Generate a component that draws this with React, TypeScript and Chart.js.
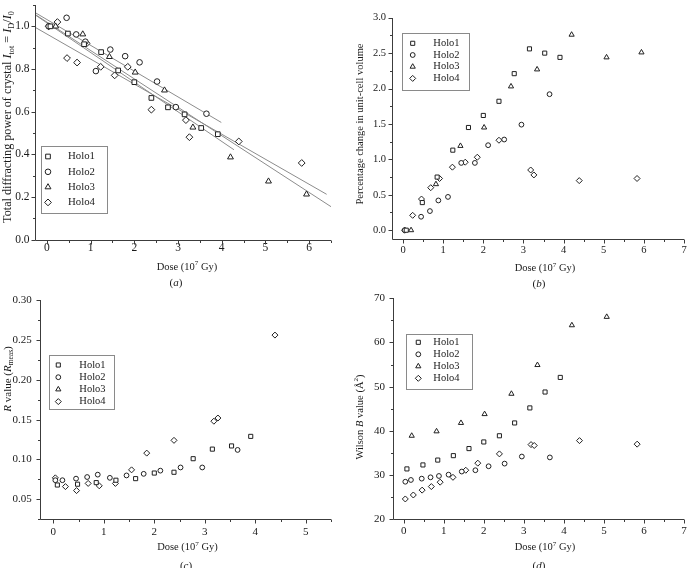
import React, { useEffect, useRef } from 'react';
import { Chart, registerables } from 'chart.js';
import { drawPoint } from 'chart.js/helpers';

Chart.register(...registerables);

// ---------------- data ----------------
const seriesNames = ['Holo1', 'Holo2', 'Holo3', 'Holo4'];
const seriesStyles = ['rect', 'circle', 'triangle', 'rectRot'];

const holo1Dose = [0.08, 0.48, 0.85, 1.24, 1.63, 2.0, 2.39, 2.77, 3.15, 3.53, 3.91];
const holo2Dose = [0.04, 0.18, 0.45, 0.67, 0.88, 1.12, 1.45, 1.79, 2.12, 2.52, 2.95, 3.65];
const holo3Dose = [0.2, 0.82, 1.43, 2.02, 2.69, 3.34, 4.2, 5.07, 5.94];
const holo4Dose = [0.04, 0.24, 0.46, 0.69, 0.91, 1.23, 1.55, 1.85, 2.39, 3.18, 3.26, 4.39, 5.83];

// (a) total diffracting power I_tot = I_D / I_0
const holo1Power = [1.0, 0.966, 0.916, 0.879, 0.793, 0.738, 0.664, 0.62, 0.587, 0.523, 0.494];
const holo2Power = [1.0, null, 1.04, 0.962, 0.928, 0.79, 0.891, 0.86, 0.831, 0.741, 0.621, 0.59];
const holo3Power = [1.0, 0.963, 0.857, 0.784, 0.7, 0.526, 0.386, 0.273, 0.212];
const holo4Power = [1.0, 1.02, 0.851, 0.83, 0.92, 0.81, 0.77, 0.81, 0.609, 0.56, 0.48, 0.46, 0.359];

// (a) linear fits (start / end of each line)
const fitStartDose = [-0.25, -0.25, -0.25, -0.25];
const fitEndDose = [4.28, 3.99, 6.5, 6.4];
const fitStartPower = [1.051, 1.062, 1.053, 0.993];
const fitEndPower = [0.421, 0.549, 0.154, 0.212];

// (b) percentage change in unit-cell volume
const holo1Volume = [0.0, 0.39, 0.75, 1.13, 1.45, 1.62, 1.82, 2.21, 2.56, 2.5, 2.44];
const holo2Volume = [0.0, null, 0.19, 0.27, 0.42, 0.47, 0.95, 0.95, 1.2, 1.28, 1.49, 1.92];
const holo3Volume = [0.0, 0.65, 1.19, 1.45, 2.03, 2.27, 2.76, 2.44, 2.51];
const holo4Volume = [0.0, 0.21, 0.44, 0.6, 0.73, 0.89, 0.96, 1.03, 1.27, 0.85, 0.78, 0.7, 0.73];

// (c) R value (R_meas)
const holo1R = [0.068, 0.069, 0.071, 0.074, 0.076, 0.083, 0.084, 0.101, 0.113, 0.117, 0.129];
const holo2R = [0.074, 0.074, 0.076, 0.078, 0.081, 0.077, 0.08, 0.082, 0.086, 0.09, 0.09, 0.112];
const holo3R = [null, null, null, null, null, null, null, null, null];
const holo4R = [0.077, 0.066, 0.061, 0.07, 0.067, 0.07, 0.087, 0.108, 0.124, 0.148, 0.152, 0.256, null];

// (d) Wilson B value (Å^2)
const holo1B = [31.4, 32.3, 33.4, 34.4, 36.0, 37.5, 38.9, 41.8, 45.2, 48.8, 52.1];
const holo2B = [28.5, 28.9, 29.2, 29.5, 29.8, 30.1, 30.8, 31.1, 32.0, 32.6, 34.2, 34.0];
const holo3B = [38.9, 39.9, 41.8, 43.8, 48.4, 54.9, 63.9, 65.8, null];
const holo4B = [24.6, 25.5, 26.6, 27.4, 28.4, 29.5, 31.1, 32.7, 34.8, 36.9, 36.7, 37.8, 37.0];

// tick labels
const doseTicks7 = [0, 1, 2, 3, 4, 5, 6, 7];
const doseTicks6 = [0, 1, 2, 3, 4, 5, 6];
const doseTicks5 = [0, 1, 2, 3, 4, 5];
const powerTicks = [0, 0.2, 0.4, 0.6, 0.8, 1.0];
const volumeTicks = [0, 0.5, 1.0, 1.5, 2.0, 2.5, 3.0];
const rTicks = [0.05, 0.1, 0.15, 0.2, 0.25, 0.3];
const bTicks = [20, 30, 40, 50, 60, 70];

// ---------------- helpers ----------------
const FONT = '"Liberation Serif", "Times New Roman", serif';
const INK = '#1a1a1a';

type Seg = { t: string; i?: boolean; sub?: boolean; sup?: boolean };

function segFont(size: number, s: Seg) {
  const sz = s.sub || s.sup ? size * 0.68 : size;
  return `${s.i ? 'italic ' : ''}${sz}px ${FONT}`;
}

function drawRich(ctx: CanvasRenderingContext2D, segs: Seg[], size: number, cx: number, cy: number, rotate: boolean) {
  ctx.save();
  ctx.translate(cx, cy);
  if (rotate) ctx.rotate(-Math.PI / 2);
  const widths = segs.map((s) => {
    ctx.font = segFont(size, s);
    return ctx.measureText(s.t).width;
  });
  const total = widths.reduce((a, b) => a + b, 0);
  let x = -total / 2;
  ctx.textBaseline = 'middle';
  ctx.textAlign = 'left';
  ctx.fillStyle = INK;
  segs.forEach((s, k) => {
    ctx.font = segFont(size, s);
    const dy = s.sub ? size * 0.28 : s.sup ? -size * 0.33 : 0;
    ctx.fillText(s.t, x, dy);
    x += widths[k];
  });
  ctx.restore();
}

function pointsOf(doses: number[], values: (number | null)[]) {
  const out: { x: number; y: number }[] = [];
  doses.forEach((d, i) => {
    const v = values[i];
    if (v !== null && v !== undefined) out.push({ x: d, y: v });
  });
  return out;
}

const framePlugin = {
  id: 'frame',
  beforeDatasetsDraw(chart: any) {
    const o = chart.options.plugins.frame;
    const { ctx, chartArea: a, scales } = chart;
    const xs = scales.x;
    const ys = scales.y;
    ctx.save();
    ctx.strokeStyle = '#3c3c3c';
    ctx.lineWidth = 1;
    const L = Math.round(a.left) - 0.5;
    const B = Math.round(a.bottom) + 0.5;
    ctx.beginPath();
    ctx.moveTo(L, Math.round(a.top));
    ctx.lineTo(L, B);
    ctx.lineTo(Math.round(a.right), B);
    const near = (arr: number[], v: number) => arr.some((m) => Math.abs(m - v) < 1e-6);
    const xStart = Math.ceil((xs.min - 1e-9) / o.xMinor) * o.xMinor;
    for (let v = xStart; v <= xs.max + 1e-9; v += o.xMinor) {
      const major = near(o.xMajor, v);
      const px = Math.round(xs.getPixelForValue(v)) + 0.5;
      if (px < a.left) continue;
      ctx.moveTo(px, B);
      ctx.lineTo(px, B + (major ? 4 : 2.5));
    }
    const yStart = Math.ceil((ys.min - 1e-9) / o.yMinor) * o.yMinor;
    for (let v = yStart; v <= ys.max + 1e-9; v += o.yMinor) {
      const major = near(o.yMajor, v);
      const py = Math.round(ys.getPixelForValue(v)) + 0.5;
      if (py > a.bottom + 1) continue;
      ctx.moveTo(L, py);
      ctx.lineTo(L - (major ? 4 : 2.5), py);
    }
    ctx.stroke();
    ctx.restore();
  },
  afterDraw(chart: any) {
    const o = chart.options.plugins.frame;
    const ctx = chart.ctx;
    drawRich(ctx, o.yTitle, o.yTitleSize, o.yTitleX, o.yTitleY, true);
    drawRich(ctx, o.xTitle, o.xTitleSize, o.xTitleX, o.xTitleY, false);
    drawRich(ctx, o.caption, o.captionSize, o.captionX, o.captionY, false);
    const lg = o.legend;
    ctx.save();
    ctx.fillStyle = '#ffffff';
    ctx.strokeStyle = '#8a8a8a';
    ctx.lineWidth = 1;
    ctx.fillRect(lg.x, lg.y, lg.w, lg.h);
    ctx.strokeRect(Math.round(lg.x) + 0.5, Math.round(lg.y) + 0.5, Math.round(lg.w), Math.round(lg.h));
    const sets = chart.data.datasets.filter((d: any) => d.label);
    sets.forEach((d: any, k: number) => {
      const yy = lg.row0 + k * lg.rowH;
      ctx.strokeStyle = d.borderColor;
      ctx.fillStyle = '#ffffff';
      ctx.lineWidth = 1;
      drawPoint(ctx, { pointStyle: d.pointStyle, radius: d.pointRadius, rotation: 0, borderWidth: 1 } as any, lg.markerX, yy);
      ctx.fillStyle = INK;
      ctx.font = `${lg.size}px ${FONT}`;
      ctx.textAlign = 'left';
      ctx.textBaseline = 'middle';
      ctx.fillText(d.label, lg.textX, yy);
    });
    ctx.restore();
  },
};

const doseTitle: Seg[] = [{ t: 'Dose (10' }, { t: '7', sup: true }, { t: ' Gy)' }];

type PanelCfg = {
  left: number; top: number; w: number; h: number;
  area: { L: number; R: number; T: number; B: number };
  xMin: number; xMax: number; yMin: number; yMax: number;
  xMajor: number[]; xMinor: number; yMajor: number[]; yMinor: number;
  yDigits: number;
  tickSize: number; xPad: number; yPad: number;
  series: (number | null)[][];
  radii: number[];
  fits?: boolean;
  frame: any;
};

function buildConfig(p: PanelCfg): any {
  const doseSets = [holo1Dose, holo2Dose, holo3Dose, holo4Dose];
  const datasets: any[] = seriesNames.map((name, k) => ({
    type: 'scatter',
    label: name,
    data: pointsOf(doseSets[k], p.series[k]),
    pointStyle: seriesStyles[k],
    pointRadius: p.radii[k],
    pointBorderWidth: 1,
    borderWidth: 1,
    borderColor: '#202020',
    backgroundColor: '#ffffff',
    pointBackgroundColor: '#ffffff',
    showLine: false,
    clip: false,
    order: 1,
  }));
  if (p.fits) {
    for (let k = 0; k < 4; k++) {
      datasets.push({
        type: 'line',
        data: [
          { x: fitStartDose[k], y: fitStartPower[k] },
          { x: fitEndDose[k], y: fitEndPower[k] },
        ],
        borderColor: '#8c8c8c',
        borderWidth: 1,
        pointRadius: 0,
        fill: false,
        clip: false,
        order: 10,
      });
    }
  }
  const tickFont = { family: FONT, size: p.tickSize };
  return {
    type: 'scatter',
    data: { datasets },
    options: {
      responsive: false,
      animation: false,
      events: [],
      layout: { padding: { left: 0, top: p.area.T, right: p.w - p.area.R, bottom: 0 } },
      scales: {
        x: {
          type: 'linear',
          min: p.xMin,
          max: p.xMax,
          grid: { display: false, drawTicks: false },
          border: { display: false },
          afterBuildTicks: (s: any) => {
            s.ticks = p.xMajor.map((v) => ({ value: v }));
          },
          afterFit: (s: any) => {
            s.height = p.h - p.area.B;
            s.paddingLeft = 0;
            s.paddingRight = 0;
          },
          ticks: {
            font: tickFont,
            color: INK,
            padding: p.xPad,
            maxRotation: 0,
            autoSkip: false,
            callback: (v: number) => String(Math.round(v)),
          },
        },
        y: {
          type: 'linear',
          min: p.yMin,
          max: p.yMax,
          grid: { display: false, drawTicks: false },
          border: { display: false },
          afterBuildTicks: (s: any) => {
            s.ticks = p.yMajor.map((v) => ({ value: v }));
          },
          afterFit: (s: any) => {
            s.width = p.area.L;
            s.paddingTop = 0;
            s.paddingBottom = 0;
          },
          ticks: {
            font: tickFont,
            color: INK,
            padding: p.yPad,
            autoSkip: false,
            callback: (v: number) => v.toFixed(p.yDigits),
          },
        },
      },
      plugins: {
        legend: { display: false },
        title: { display: false },
        tooltip: { enabled: false },
        frame: {
          ...p.frame,
          xMajor: p.xMajor,
          xMinor: p.xMinor,
          yMajor: p.yMajor,
          yMinor: p.yMinor,
        },
      },
    },
    plugins: [framePlugin],
  };
}

const panels: PanelCfg[] = [
  {
    left: 0, top: 0, w: 345, h: 290,
    area: { L: 36, R: 331, T: 0.5, B: 239.5 },
    xMin: -0.25, xMax: 6.5, yMin: 0, yMax: 1.1,
    xMajor: doseTicks6, xMinor: 0.5, yMajor: powerTicks, yMinor: 0.1, yDigits: 1,
    tickSize: 11.5, xPad: 1.3, yPad: 6.5,
    series: [holo1Power, holo2Power, holo3Power, holo4Power],
    radii: [3.3, 2.8, 3.4, 3.4],
    fits: true,
    frame: {
      yTitle: [
        { t: 'Total diffracting power of crystal ' }, { t: 'I', i: true }, { t: 'tot', sub: true },
        { t: ' = ' }, { t: 'I', i: true }, { t: 'D', sub: true }, { t: '/' }, { t: 'I', i: true }, { t: '0', sub: true },
      ],
      yTitleSize: 12.2, yTitleX: 8, yTitleY: 117,
      xTitle: doseTitle, xTitleSize: 10.5, xTitleX: 187, xTitleY: 267,
      caption: [{ t: '(' }, { t: 'a', i: true }, { t: ')' }], captionSize: 11, captionX: 176, captionY: 283,
      legend: { x: 40.5, y: 146, w: 65.5, h: 66.5, row0: 156.5, rowH: 15.3, markerX: 48, textX: 68, size: 10.8 },
    },
  },
  {
    left: 345, top: 0, w: 344, h: 290,
    area: { L: 48, R: 342, T: 17.7, B: 238.7 },
    xMin: -0.25, xMax: 7, yMin: -0.12, yMax: 3.0,
    xMajor: doseTicks7, xMinor: 0.5, yMajor: volumeTicks, yMinor: 0.25, yDigits: 1,
    tickSize: 10.5, xPad: 5, yPad: 7,
    series: [holo1Volume, holo2Volume, holo3Volume, holo4Volume],
    radii: [2.9, 2.4, 3.0, 3.0],
    frame: {
      yTitle: [{ t: 'Percentage change in unit-cell volume' }],
      yTitleSize: 10.5, yTitleX: 15, yTitleY: 124,
      xTitle: doseTitle, xTitleSize: 10.5, xTitleX: 200, xTitleY: 268.3,
      caption: [{ t: '(' }, { t: 'b', i: true }, { t: ')' }], captionSize: 11, captionX: 194, captionY: 283.7,
      legend: { x: 57.3, y: 32.7, w: 66.7, h: 56.7, row0: 43.3, rowH: 11.7, markerX: 67.7, textX: 88.3, size: 10.5 },
    },
  },
  {
    left: 0, top: 290, w: 345, h: 278,
    area: { L: 40.7, R: 331, T: 10, B: 229.3 },
    xMin: -0.25, xMax: 5.5, yMin: 0.025, yMax: 0.3,
    xMajor: doseTicks5, xMinor: 0.5, yMajor: rTicks, yMinor: 0.025, yDigits: 2,
    tickSize: 11, xPad: 5.8, yPad: 9,
    series: [holo1R, holo2R, holo3R, holo4R],
    radii: [2.9, 2.4, 3.0, 3.0],
    frame: {
      yTitle: [{ t: 'R', i: true }, { t: ' value (' }, { t: 'R', i: true }, { t: 'meas', sub: true }, { t: ')' }],
      yTitleSize: 11, yTitleX: 8, yTitleY: 89,
      xTitle: doseTitle, xTitleSize: 10.5, xTitleX: 187.5, xTitleY: 257.3,
      caption: [{ t: '(' }, { t: 'c', i: true }, { t: ')' }], captionSize: 11, captionX: 186, captionY: 276,
      legend: { x: 49.3, y: 65, w: 65, h: 54.3, row0: 75, rowH: 12.2, markerX: 58.3, textX: 79.3, size: 10.5 },
    },
  },
  {
    left: 345, top: 290, w: 344, h: 278,
    area: { L: 48.7, R: 342, T: 8.3, B: 229.3 },
    xMin: -0.25, xMax: 7, yMin: 20, yMax: 70,
    xMajor: doseTicks7, xMinor: 0.5, yMajor: bTicks, yMinor: 5, yDigits: 0,
    tickSize: 11, xPad: 4.8, yPad: 8.7,
    series: [holo1B, holo2B, holo3B, holo4B],
    radii: [2.9, 2.4, 3.0, 3.0],
    frame: {
      yTitle: [{ t: 'Wilson ' }, { t: 'B', i: true }, { t: ' value (Å' }, { t: '2', sup: true }, { t: ')' }],
      yTitleSize: 10.5, yTitleX: 15, yTitleY: 127,
      xTitle: doseTitle, xTitleSize: 10.5, xTitleX: 200, xTitleY: 257.3,
      caption: [{ t: '(' }, { t: 'd', i: true }, { t: ')' }], captionSize: 11, captionX: 194, captionY: 276,
      legend: { x: 61, y: 44, w: 66, h: 55.3, row0: 52.3, rowH: 12, markerX: 73.3, textX: 88.3, size: 10.5 },
    },
  },
];

function Panel({ cfg }: { cfg: PanelCfg }) {
  const ref = useRef<HTMLCanvasElement>(null);
  useEffect(() => {
    const chart = new Chart(ref.current as HTMLCanvasElement, buildConfig(cfg));
    return () => chart.destroy();
  }, [cfg]);
  return (
    <canvas
      ref={ref}
      width={cfg.w}
      height={cfg.h}
      style={{ position: 'absolute', left: cfg.left, top: cfg.top, width: cfg.w, height: cfg.h, display: 'block' }}
    />
  );
}

export default function App() {
  return (
    <div style={{ position: 'fixed', left: 0, top: 0, width: 689, height: 568, background: '#ffffff', overflow: 'hidden' }}>
      {panels.map((p, i) => (
        <Panel key={i} cfg={p} />
      ))}
    </div>
  );
}
